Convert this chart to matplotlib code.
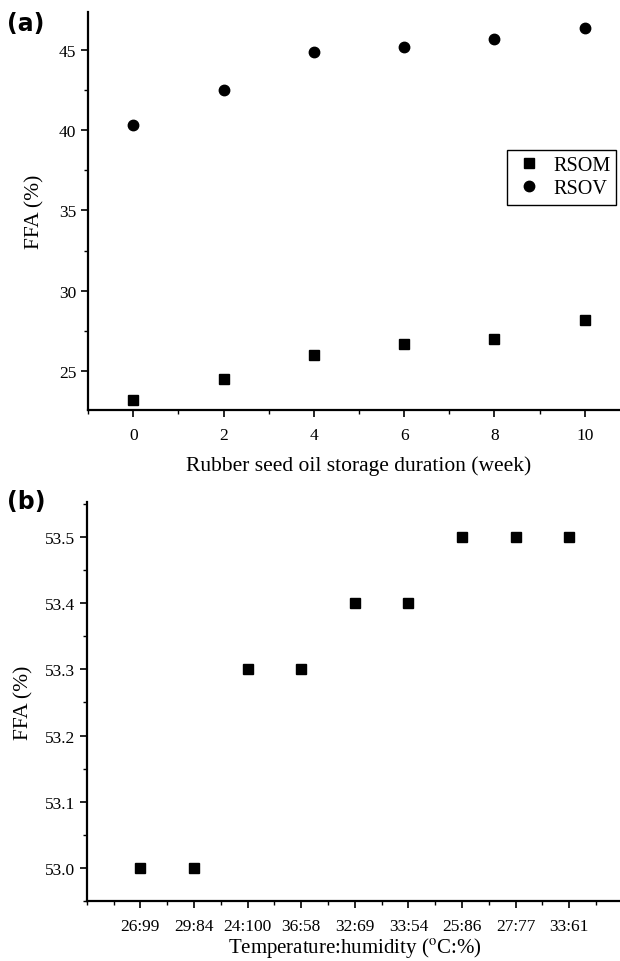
import matplotlib
matplotlib.use('Agg')
import matplotlib.pyplot as plt
from matplotlib.ticker import MultipleLocator, FormatStrFormatter

# panel (a): storage duration
weeks = [0, 2, 4, 6, 8, 10]
rsom = [23.2, 24.5, 26.0, 26.7, 27.0, 28.2]
rsov = [40.3, 42.5, 44.9, 45.2, 45.7, 46.4]

# panel (b): temperature:humidity
conditions = ['26:99', '29:84', '24:100', '36:58', '32:69', '33:54', '25:86', '27:77', '33:61']
ffa_b = [53.0, 53.0, 53.3, 53.3, 53.4, 53.4, 53.5, 53.5, 53.5]

plt.rcParams['font.family'] = ['Liberation Serif', 'DejaVu Serif']
plt.rcParams['mathtext.fontset'] = 'stix'

fig = plt.figure(figsize=(6.2, 9.62), dpi=100)


def style_axes(ax):
    ax.spines['top'].set_visible(False)
    ax.spines['right'].set_visible(False)
    for s in ['left', 'bottom']:
        ax.spines[s].set_linewidth(1.6)
    ax.tick_params(which='major', direction='out', length=5, width=1.2, labelsize=12.5)
    ax.tick_params(which='minor', direction='out', length=3, width=1.0)
    ax.tick_params(axis='x', which='major', pad=7)


# (a)
ax1 = fig.add_axes([0.142, 0.5728, 0.874, 0.4137])
ax1.plot(weeks, rsom, 's', color='black', markersize=7, label='RSOM', clip_on=False)
ax1.plot(weeks, rsov, 'o', color='black', markersize=7.5, label='RSOV', clip_on=False)
ax1.set_xlim(-1, 11)
ax1.set_ylim(22.57, 47.37)
ax1.xaxis.set_major_locator(MultipleLocator(2))
ax1.xaxis.set_minor_locator(MultipleLocator(1))
ax1.yaxis.set_major_locator(MultipleLocator(5))
ax1.yaxis.set_minor_locator(MultipleLocator(2.5))
style_axes(ax1)
ax1.set_xlabel('Rubber seed oil storage duration (week)', fontsize=15.5, labelpad=9)
ax1.set_ylabel('FFA (%)', fontsize=15.5, labelpad=10)
leg = ax1.legend(loc='upper left', bbox_to_anchor=(0.754, 0.678), fancybox=False,
                 edgecolor='black', fontsize=14.5, handletextpad=0.4, borderpad=0.3,
                 labelspacing=0.2, framealpha=1, handlelength=1.6)
leg.get_frame().set_linewidth(1.0)
fig.text(0.012, 0.968, '(a)', fontsize=17, fontweight='bold', family='DejaVu Sans')

# (b)
pos = list(range(1, len(conditions) + 1))
ax2 = fig.add_axes([0.140, 0.0624, 0.8645, 0.4147])
ax2.plot(pos, ffa_b, 's', color='black', markersize=7, clip_on=False)
ax2.set_xlim(0, 10)
ax2.set_ylim(52.95, 53.553)
ax2.set_xticks(pos)
ax2.set_xticklabels(conditions)
ax2.xaxis.set_minor_locator(MultipleLocator(0.5))
ax2.yaxis.set_major_locator(MultipleLocator(0.1))
ax2.yaxis.set_minor_locator(MultipleLocator(0.05))
ax2.yaxis.set_major_formatter(FormatStrFormatter('%.1f'))
style_axes(ax2)
ax2.set_xlabel(r'Temperature:humidity ($^{\rm o}$C:%)', fontsize=15, labelpad=1)
ax2.set_ylabel('FFA (%)', fontsize=15.5, labelpad=8)
fig.text(0.012, 0.471, '(b)', fontsize=17, fontweight='bold', family='DejaVu Sans')

fig.savefig('out.png', dpi=100)
